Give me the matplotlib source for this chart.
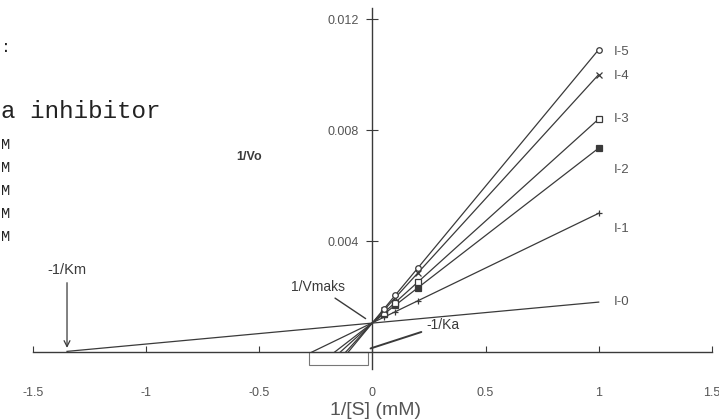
import matplotlib
matplotlib.use('Agg')
import matplotlib.pyplot as plt
import numpy as np
from matplotlib.patches import Rectangle

# 1/[S] values where the rates were measured (mM^-1)
inv_s = [0.05, 0.1, 0.2, 1.0]

# 1/Vo for each inhibitor level
series_names = ['I-0', 'I-1', 'I-2', 'I-3', 'I-4', 'I-5']
inv_v = {
    'I-0': [0.00108, 0.00112, 0.00120, 0.00180],
    'I-1': [0.00125, 0.00145, 0.00185, 0.00500],
    'I-2': [0.00137, 0.00168, 0.00231, 0.00735],
    'I-3': [0.00142, 0.00178, 0.00251, 0.00840],
    'I-4': [0.00150, 0.00195, 0.00285, 0.01000],
    'I-5': [0.00155, 0.00204, 0.00302, 0.01090],
}
markers = {'I-0': None, 'I-1': '+', 'I-2': 's', 'I-3': 's', 'I-4': 'x', 'I-5': 'o'}
filled = {'I-1': True, 'I-2': True, 'I-3': False, 'I-4': True, 'I-5': False}
label_y = {'I-0': 0.00180, 'I-1': 0.00445, 'I-2': 0.00655, 'I-3': 0.00840,
           'I-4': 0.00995, 'I-5': 0.01080}

km_point = -1.35
xticks = [-1.5, -1, -0.5, 0, 0.5, 1, 1.5]
xtick_labels = ['-1.5', '-1', '-0.5', '0', '0.5', '1', '1.5']
yticks = [0.004, 0.008, 0.012]
ytick_labels = ['0.004', '0.008', '0.012']

ink = '#3a3a3a'
grey = '#555555'
plt.rcParams['font.family'] = ['Liberation Sans', 'DejaVu Sans']

fig = plt.figure(figsize=(7.19, 4.19), dpi=100)
ax = fig.add_axes([0.046, 0.120, 0.944, 0.861])

for name in series_names:
    xs = np.array(inv_s)
    ys = np.array(inv_v[name])
    m, b = np.polyfit(xs, ys, 1)
    x0 = km_point if name == 'I-0' else -b / m
    ax.plot([x0, xs[-1]], [m * x0 + b, m * xs[-1] + b], color=ink, lw=0.9)
    if markers[name]:
        ax.plot(xs, ys, linestyle='none', marker=markers[name], ms=4,
                mec=ink, mfc=ink if filled[name] else 'white', mew=0.9)
    ax.text(1.065, label_y[name], name, fontsize=9.5, color=grey,
            va='center', ha='left')

ax.add_patch(Rectangle((-0.28, -0.00048), 0.26, 0.00048, fill=False,
                       ec='#777777', lw=0.8))

ax.set_xlim(-1.5, 1.5)
ax.set_ylim(-0.0006, 0.0124)
ax.spines['left'].set_position(('data', 0))
ax.spines['bottom'].set_position(('data', 0))
ax.spines['right'].set_visible(False)
ax.spines['top'].set_visible(False)
for s in ('left', 'bottom'):
    ax.spines[s].set_color(ink)
    ax.spines[s].set_linewidth(1.0)

ax.set_xticks(xticks)
ax.set_xticklabels(xtick_labels)
ax.set_yticks(yticks)
ax.set_yticklabels(ytick_labels)
ax.tick_params(axis='x', direction='in', length=4, pad=25, labelsize=9,
               colors=ink, labelcolor=grey)
ax.tick_params(axis='y', direction='inout', length=8, pad=6, labelsize=9,
               colors=ink, labelcolor=grey)

ax.annotate('-1/Km', xy=(km_point, 0.00005), xytext=(km_point, 0.0027),
            fontsize=10.5, color=ink, ha='center', va='bottom',
            arrowprops=dict(arrowstyle='->', color=ink, lw=0.9))
ax.annotate('1/Vmaks', xy=(-0.02, 0.00115), xytext=(-0.24, 0.0021),
            fontsize=10, color=ink, ha='center', va='bottom',
            arrowprops=dict(arrowstyle='-', color=ink, lw=1.0))
ax.annotate('-1/Ka', xy=(-0.02, 0.0001), xytext=(0.24, 0.00098),
            fontsize=10, color=ink, ha='left', va='center',
            arrowprops=dict(arrowstyle='-', color=ink, lw=1.4))

fig.text(236 / 719, 1 - 157 / 419, '1/Vo', fontsize=9, color=ink,
         weight='bold', ha='left', va='center')
fig.text(376 / 719, 1 - 410 / 419, '1/[S] (mM)', fontsize=14, color=grey,
         ha='center', va='center')

# left-hand legend text, cropped in the original scan
mono = ['Liberation Mono', 'DejaVu Sans Mono']
fig.text(0.002, 1 - 47 / 419, ':', fontsize=12, family=mono, color='#222222',
         va='center', ha='left')
fig.text(0.001, 1 - 112 / 419, 'a inhibitor', fontsize=17.5, family=mono,
         color='#222222', va='center', ha='left')
for yy in [145, 168, 191, 214, 237]:
    fig.text(0.001, 1 - yy / 419, 'M', fontsize=11, family=mono,
             color='#222222', va='center', ha='left')

fig.savefig('out.png', dpi=100)
